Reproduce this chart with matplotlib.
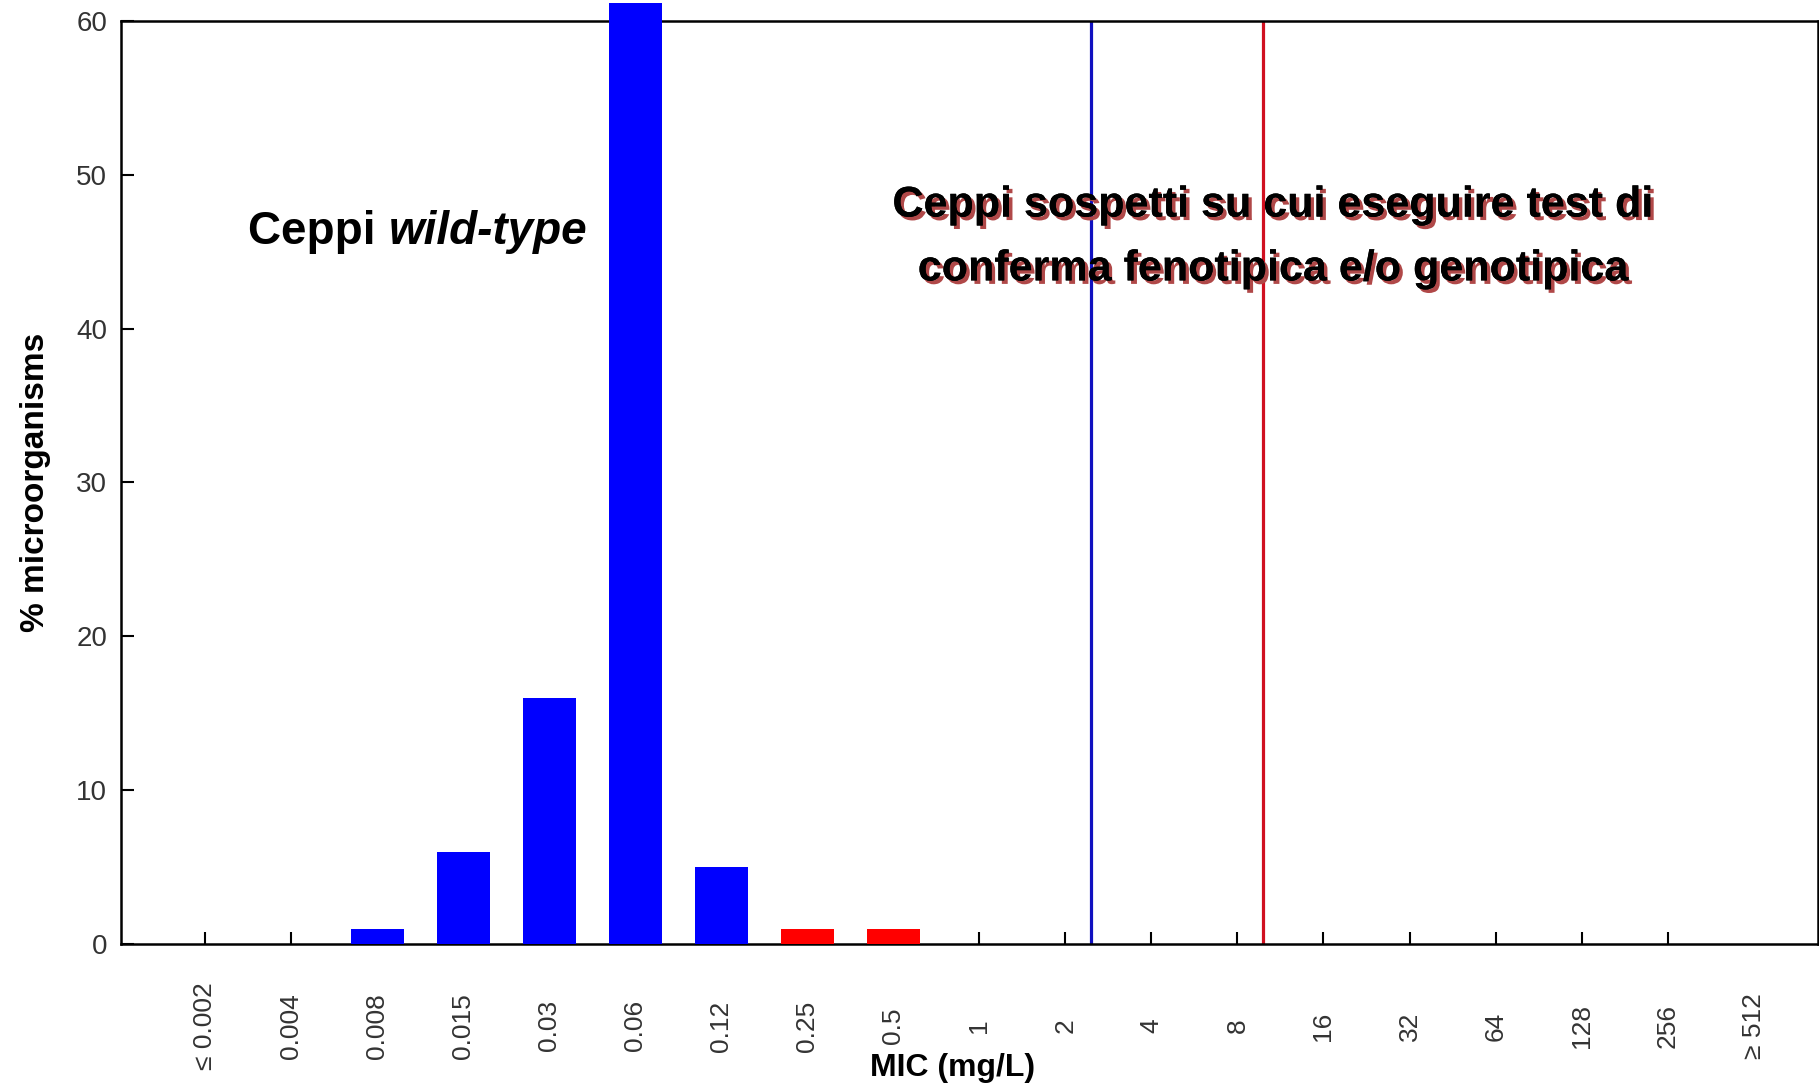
import matplotlib
matplotlib.use('Agg')
import matplotlib.pyplot as plt
import matplotlib.patheffects as pe

mic_labels = ['≤ 0.002', '0.004', '0.008', '0.015', '0.03', '0.06', '0.12', '0.25', '0.5',
              '1', '2', '4', '8', '16', '32', '64', '128', '256', '≥ 512']
percent = [0, 0, 1, 6, 16, 61.2, 5, 1, 1, 0, 0, 0, 0, 0, 0, 0, 0, 0, 0]
bar_colors = ['blue'] * 7 + ['red'] * 2 + ['blue'] * 10
ecoff_pos = 10.3   # blue line, between 2 and 4
bp_pos = 12.3      # red line, between 8 and 16

plt.rcParams['font.family'] = ['Liberation Sans', 'DejaVu Sans']

fig = plt.figure(figsize=(18.19, 10.88), dpi=100)
ax = fig.add_axes([0.0665, 0.1324, 0.933, 0.8483])

x = list(range(len(mic_labels)))
colors = ['#0000ff' if c == 'blue' else '#ff0000' for c in bar_colors]
ax.bar(x, percent, width=0.62, color=colors, zorder=3, clip_on=False)

ax.plot([ecoff_pos, ecoff_pos], [0, 60], color='#1010c0', lw=2.3, zorder=2)
ax.plot([bp_pos, bp_pos], [0, 60], color='#d01020', lw=2.3, zorder=2)

ax.set_xlim(-0.98, 18.75)
ax.set_ylim(0, 60)
ax.set_yticks(range(0, 61, 10))
ax.set_xticks(x)
ax.set_xticklabels(mic_labels, rotation=90, va='center', ha='center')
ax.xaxis.get_major_ticks()[-1].tick1line.set_visible(False)

ax.tick_params(axis='x', direction='in', length=9, width=1.5, pad=59, labelsize=19, labelcolor='#333333')
ax.tick_params(axis='y', direction='in', length=9, width=1.5, pad=10, labelsize=20, labelcolor='#333333')

for s in ax.spines.values():
    s.set_linewidth(1.8)

ax.set_ylabel('% microorganisms', fontsize=24, fontweight='bold')
ax.yaxis.set_label_coords(-0.041, 0.5)
ax.set_xlabel('MIC (mg/L)', fontsize=23, fontweight='bold')
ax.xaxis.set_label_coords(0.49, -0.118)

ax.text(2.13, 46.3, 'Ceppi ', fontsize=33, fontweight='bold', ha='right', va='center')
ax.text(2.13, 46.3, 'wild-type', fontsize=33, fontweight='bold', style='italic', ha='left', va='center')

shadow = [pe.withSimplePatchShadow(offset=(2.5, -2.5), shadow_rgbFace='#b04848', alpha=1), pe.Normal()]
ax.text(12.4, 48.0, 'Ceppi sospetti su cui eseguire test di', fontsize=31, fontweight='bold',
        ha='center', va='center', path_effects=shadow)
ax.text(12.4, 43.85, 'conferma fenotipica e/o genotipica', fontsize=31, fontweight='bold',
        ha='center', va='center', path_effects=shadow)

fig.savefig('out.png', dpi=100)
